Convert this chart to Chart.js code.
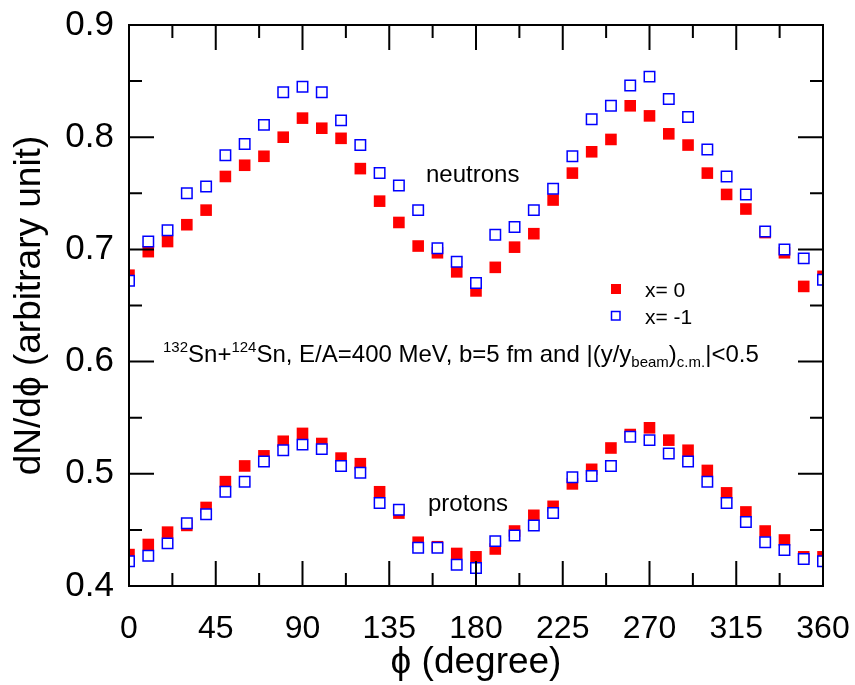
<!DOCTYPE html>
<html>
<head>
<meta charset="utf-8">
<script src="https://cdn.jsdelivr.net/npm/chart.js@4.4.0/dist/chart.umd.min.js"></script>
<style>
  html, body { margin: 0; padding: 0; background: #fff; }
  #wrap { width: 855px; height: 685px; }
</style>
</head>
<body>
<div id="wrap"><canvas id="chart" width="855" height="685"></canvas></div>
<script>
// azimuthal angle (degree), one point every 10 degrees
const angles = [0, 10, 20, 30, 40, 50, 60, 70, 80, 90, 100, 110, 120, 130, 140, 150, 160, 170, 180,
                190, 200, 210, 220, 230, 240, 250, 260, 270, 280, 290, 300, 310, 320, 330, 340, 350, 360];

const neutronsX0 = [0.677, 0.698, 0.707, 0.722, 0.735, 0.765, 0.775, 0.783, 0.800, 0.817, 0.808, 0.799, 0.772,
                    0.743, 0.724, 0.703, 0.697, 0.680, 0.663, 0.684, 0.702, 0.714, 0.744, 0.768, 0.787, 0.798,
                    0.828, 0.819, 0.803, 0.793, 0.768, 0.749, 0.736, 0.715, 0.697, 0.667, 0.676];
const neutronsXm1 = [0.672, 0.707, 0.717, 0.750, 0.756, 0.784, 0.794, 0.811, 0.840, 0.845, 0.840, 0.815, 0.793,
                     0.768, 0.757, 0.735, 0.701, 0.689, 0.670, 0.713, 0.720, 0.735, 0.754, 0.783, 0.816, 0.828,
                     0.846, 0.854, 0.834, 0.818, 0.789, 0.765, 0.749, 0.716, 0.700, 0.692, 0.673];
const protonsX0 = [0.428, 0.437, 0.448, 0.454, 0.470, 0.493, 0.507, 0.516, 0.529, 0.536, 0.527, 0.514, 0.509,
                   0.484, 0.465, 0.439, 0.435, 0.429, 0.426, 0.433, 0.449, 0.463, 0.471, 0.491, 0.504, 0.523,
                   0.535, 0.541, 0.530, 0.521, 0.503, 0.483, 0.466, 0.449, 0.441, 0.426, 0.426];
const protonsXm1 = [0.422, 0.427, 0.438, 0.456, 0.464, 0.484, 0.493, 0.511, 0.521, 0.526, 0.522, 0.507, 0.501,
                    0.474, 0.468, 0.434, 0.434, 0.419, 0.416, 0.440, 0.445, 0.454, 0.465, 0.497, 0.498, 0.507,
                    0.533, 0.530, 0.518, 0.511, 0.493, 0.474, 0.457, 0.439, 0.432, 0.424, 0.422];

const xTicks = [0, 45, 90, 135, 180, 225, 270, 315, 360];
const xMinorTicks = [22.5, 67.5, 112.5, 157.5, 202.5, 247.5, 292.5, 337.5];
const yTicks = [0.4, 0.5, 0.6, 0.7, 0.8, 0.9];
const yMinorTicks = [0.45, 0.55, 0.65, 0.75, 0.85];

const FONT = "'Liberation Sans', Arial, sans-serif";
const RED = 'rgb(255, 0, 0)';
const BLUE = 'rgb(0, 0, 255)';

function pts(ys) {
    return angles.map((a, i) => ({ x: a, y: ys[i] }));
}

// fixed box sizes, no extra label overflow padding
function fixBox(s, w, h) {
    if (w) s.width = w;
    if (h) s.height = h;
    s.paddingLeft = s.paddingRight = s.paddingTop = s.paddingBottom = 0;
}

// open squares first so they sit on top of the filled ones
const openStyle = { pointStyle: 'rect', pointRadius: 7.4, pointBackgroundColor: '#fff',
                    pointBorderColor: BLUE, pointBorderWidth: 1.5, showLine: false, clip: 0 };
const fullStyle = { pointStyle: 'rect', pointRadius: 8.2, pointBackgroundColor: RED,
                    pointBorderColor: RED, pointBorderWidth: 0, showLine: false, clip: 0 };

// frame with inward ticks on all four sides, labels, legend
const framePlugin = {
    id: 'frame',
    afterDatasetsDraw(chart) {
        const { ctx, chartArea: a, scales: { x, y } } = chart;
        const major = 25, minor = 13;
        ctx.save();
        ctx.strokeStyle = '#000';
        ctx.lineWidth = 2;
        ctx.strokeRect(a.left, a.top, a.right - a.left, a.bottom - a.top);
        ctx.beginPath();
        function xt(v, len) {
            const px = x.getPixelForValue(v);
            ctx.moveTo(px, a.bottom); ctx.lineTo(px, a.bottom - len);
            ctx.moveTo(px, a.top); ctx.lineTo(px, a.top + len);
        }
        function yt(v, len) {
            const py = y.getPixelForValue(v);
            ctx.moveTo(a.left, py); ctx.lineTo(a.left + len, py);
            ctx.moveTo(a.right, py); ctx.lineTo(a.right - len, py);
        }
        xTicks.forEach(v => xt(v, major));
        xMinorTicks.forEach(v => xt(v, minor));
        yTicks.forEach(v => yt(v, major));
        yMinorTicks.forEach(v => yt(v, minor));
        ctx.stroke();

        ctx.fillStyle = '#000';
        ctx.textBaseline = 'alphabetic';
        ctx.textAlign = 'left';
        ctx.font = '24px ' + FONT;
        ctx.fillText('neutrons', 426, 182);
        ctx.fillText('protons', 428, 511);

        // reaction label with super/subscripts
        const parts = [
            ['132', 15, -10], ['Sn+', 24, 0], ['124', 15, -10],
            ['Sn, E/A=400 MeV, b=5 fm and |(y/y', 24, 0], ['beam', 15, 5],
            [')', 24, 0], ['c.m.', 15, 5], ['|<0.5', 24, 0]
        ];
        let cx = 163;
        parts.forEach(([t, size, dy]) => {
            ctx.font = size + 'px ' + FONT;
            ctx.fillText(t, cx, 362 + dy);
            cx += ctx.measureText(t).width;
        });

        // legend
        const ds = chart.data.datasets;
        ctx.fillStyle = ds[1].pointBackgroundColor;
        ctx.fillRect(611, 284, 10, 10);
        ctx.fillStyle = ds[0].pointBackgroundColor;
        ctx.fillRect(611.5, 311.5, 8.5, 8.5);
        ctx.strokeStyle = ds[0].pointBorderColor;
        ctx.lineWidth = 1.5;
        ctx.strokeRect(611.5, 311.5, 8.5, 8.5);
        ctx.fillStyle = '#000';
        ctx.font = '21px ' + FONT;
        ctx.fillText(ds[1].label, 645, 297);
        ctx.fillText(ds[0].label, 645, 324);
        ctx.restore();
    }
};

const ctx = document.getElementById('chart').getContext('2d');
new Chart(ctx, {
    type: 'scatter',
    data: {
        datasets: [
            Object.assign({ label: 'x= -1', data: pts(neutronsXm1) }, openStyle),
            Object.assign({ label: 'x= 0', data: pts(neutronsX0) }, fullStyle),
            Object.assign({ label: 'x= -1 p', data: pts(protonsXm1) }, openStyle),
            Object.assign({ label: 'x= 0 p', data: pts(protonsX0) }, fullStyle)
        ]
    },
    options: {
        responsive: false,
        animation: false,
        devicePixelRatio: 1,
        layout: { padding: { top: 25, right: 32, left: 0, bottom: 0 } },
        plugins: {
            legend: { display: false },
            tooltip: { enabled: false }
        },
        scales: {
            x: {
                type: 'linear',
                min: 0,
                max: 360,
                afterBuildTicks: s => { s.ticks = xTicks.map(v => ({ value: v })); },
                afterFit: s => fixBox(s, 0, 99),
                grid: { display: false, drawTicks: false },
                border: { display: false },
                ticks: { color: '#000', font: { family: FONT, size: 32 }, padding: 24, maxRotation: 0 },
                title: { display: true, text: 'ϕ (degree)', color: '#000',
                         font: { family: FONT, size: 37 }, padding: { bottom: 0 } }
            },
            y: {
                type: 'linear',
                min: 0.4,
                max: 0.9,
                afterBuildTicks: s => { s.ticks = yTicks.map(v => ({ value: v })); },
                afterFit: s => fixBox(s, 129, 0),
                grid: { display: false, drawTicks: false },
                border: { display: false },
                ticks: { color: '#000', font: { family: FONT, size: 35 }, padding: 15,
                         callback: v => v.toFixed(1) },
                title: { display: true, text: 'dN/dϕ (arbitrary unit)', color: '#000',
                         font: { family: FONT, size: 37 }, padding: { top: 8 } }
            }
        }
    },
    plugins: [framePlugin]
});
</script>
</body>
</html>
